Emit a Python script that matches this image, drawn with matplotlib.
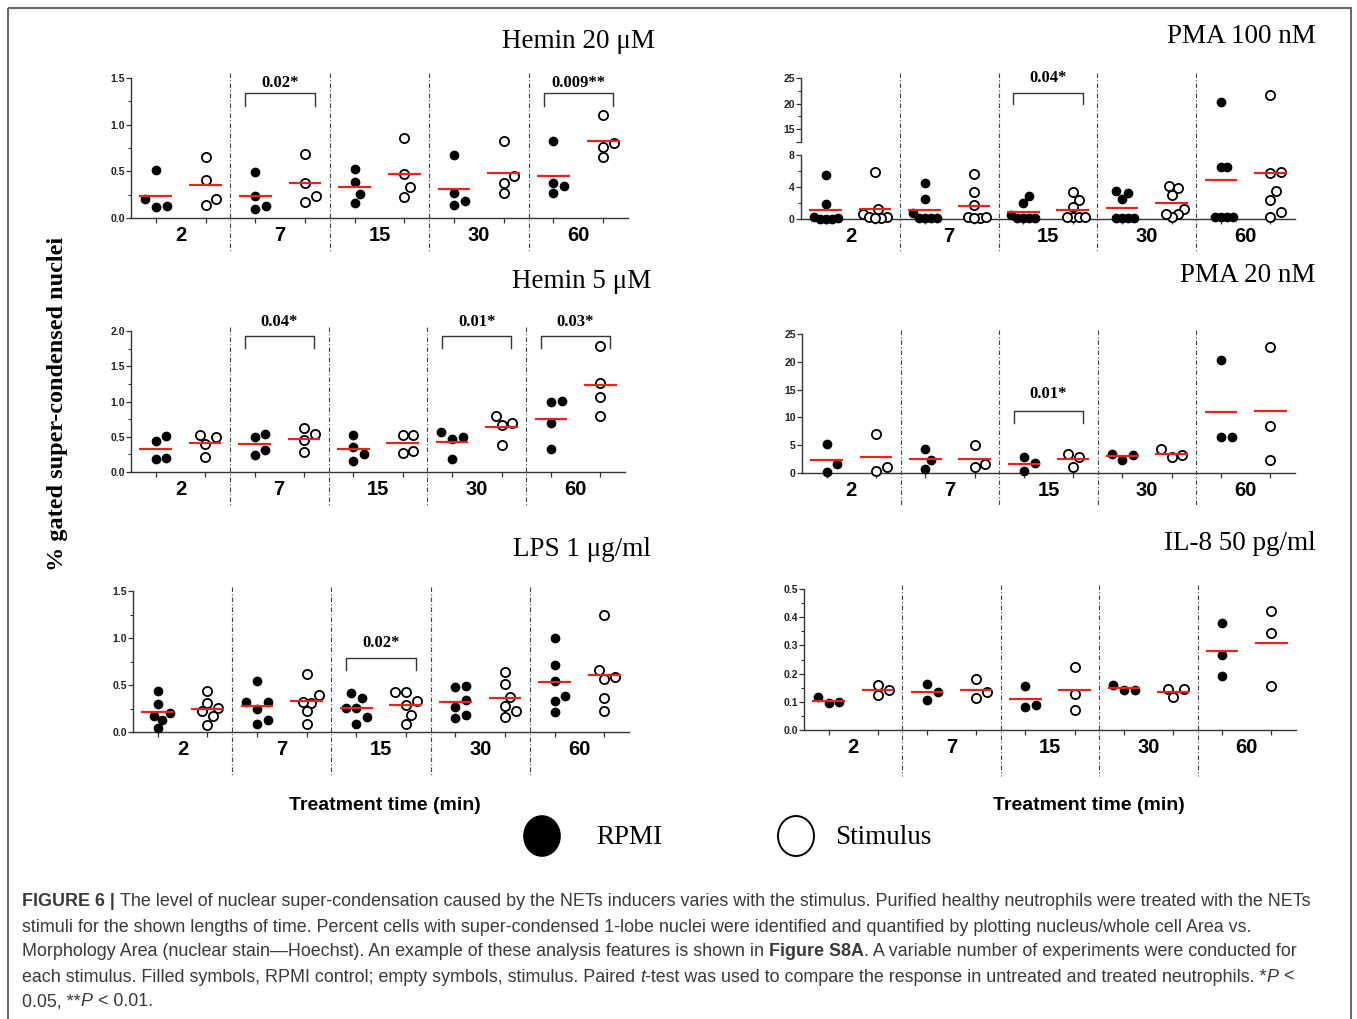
import numpy as np
import matplotlib.pyplot as plt
import matplotlib.transforms as mtransforms
from matplotlib.patches import Ellipse, Rectangle
from matplotlib.ticker import MultipleLocator

W, H = 1357, 1019
DPI = 100

times = ["2", "7", "15", "30", "60"]

# values, one list per treatment time
hemin20_rpmi = [[0.51, 0.20, 0.12, 0.13], [0.49, 0.24, 0.10, 0.13], [0.52, 0.39, 0.26, 0.16],
                [0.67, 0.27, 0.18, 0.14], [0.82, 0.38, 0.34, 0.27]]
hemin20_stim = [[0.65, 0.41, 0.20, 0.14], [0.69, 0.38, 0.24, 0.17], [0.86, 0.47, 0.33, 0.23],
                [0.82, 0.45, 0.38, 0.27], [1.10, 0.80, 0.76, 0.65]]
hemin20_sig = {1: "0.02*", 4: "0.009**"}

hemin5_rpmi = [[0.51, 0.44, 0.20, 0.18], [0.54, 0.49, 0.31, 0.24], [0.52, 0.36, 0.26, 0.15],
               [0.49, 0.47, 0.57, 0.18], [0.99, 1.01, 0.70, 0.33]]
hemin5_stim = [[0.49, 0.52, 0.40, 0.21], [0.62, 0.54, 0.45, 0.28], [0.53, 0.53, 0.27, 0.30],
               [0.70, 0.67, 0.79, 0.39], [1.79, 1.26, 1.07, 0.79]]
hemin5_sig = {1: "0.04*", 3: "0.01*", 4: "0.03*"}

lps_rpmi = [[0.44, 0.30, 0.20, 0.17, 0.13, 0.04], [0.54, 0.32, 0.32, 0.24, 0.13, 0.09],
            [0.41, 0.36, 0.26, 0.26, 0.16, 0.08], [0.48, 0.49, 0.34, 0.27, 0.18, 0.15],
            [1.00, 0.71, 0.54, 0.38, 0.33, 0.21]]
lps_stim = [[0.44, 0.31, 0.26, 0.22, 0.17, 0.07], [0.62, 0.39, 0.31, 0.32, 0.22, 0.09],
            [0.43, 0.43, 0.33, 0.29, 0.18, 0.08], [0.64, 0.51, 0.37, 0.28, 0.22, 0.16],
            [1.25, 0.66, 0.59, 0.56, 0.36, 0.22]]
lps_sig = {2: "0.02*"}

pma100_rpmi = [[5.5, 1.9, 0.3, 0.1, 0.05, 0.05, 0.05], [4.5, 2.5, 0.8, 0.1, 0.1, 0.1, 0.1],
               [2.9, 2.0, 0.5, 0.1, 0.1, 0.1, 0.1], [3.3, 2.5, 3.5, 0.1, 0.1, 0.1, 0.1],
               [20.4, 6.5, 6.5, 0.3, 0.2, 0.2, 0.3]]
pma100_stim = [[5.9, 1.3, 0.6, 0.3, 0.2, 0.1, 0.1], [5.6, 3.4, 1.7, 0.3, 0.1, 0.1, 0.3],
               [3.4, 2.4, 1.5, 0.2, 0.2, 0.2, 0.3], [3.9, 3.0, 4.1, 1.2, 0.6, 0.3, 0.6],
               [21.6, 5.7, 5.9, 3.5, 2.4, 0.9, 0.2]]
pma100_sig = {2: "0.04*"}

pma20_rpmi = [[5.3, 1.7, 0.2], [4.4, 2.3, 0.7], [2.8, 1.8, 0.36], [3.4, 2.4, 3.2], [20.3, 6.4, 6.4]]
pma20_stim = [[7.1, 1.0, 0.4], [5.0, 1.6, 1.1], [3.4, 2.8, 1.1], [4.3, 2.8, 3.2], [22.6, 8.5, 2.3]]
pma20_sig = {2: "0.01*"}

il8_rpmi = [[0.118, 0.096, 0.098], [0.162, 0.135, 0.108], [0.155, 0.090, 0.082],
            [0.160, 0.142, 0.142], [0.379, 0.265, 0.193]]
il8_stim = [[0.161, 0.125, 0.142], [0.181, 0.134, 0.112], [0.223, 0.128, 0.072],
            [0.147, 0.117, 0.144], [0.421, 0.344, 0.157]]
il8_sig = {}

fig = plt.figure(figsize=(W / DPI, H / DPI), dpi=DPI)
over = fig.add_axes([0, 0, 1, 1], zorder=5)
over.set_xlim(0, W)
over.set_ylim(H, 0)
over.axis("off")
over.patch.set_alpha(0)

AX_COL = "#333333"


def px_axes(x0, y0, x1, y1):
    a = fig.add_axes([x0 / W, 1 - y1 / H, (x1 - x0) / W, (y1 - y0) / H])
    a.patch.set_alpha(0)
    for s in ("top", "right"):
        a.spines[s].set_visible(False)
    for s in ("left", "bottom"):
        a.spines[s].set_color(AX_COL)
        a.spines[s].set_linewidth(1.0)
    a.tick_params(axis="y", which="major", length=3.5, width=0.9, color=AX_COL,
                  labelsize=7.5, pad=1)
    a.tick_params(axis="y", which="minor", length=2.5, width=0.8, color=AX_COL)
    return a


def style_yticks(a):
    for lab in a.get_yticklabels():
        lab.set_fontweight("bold")
        lab.set_fontfamily("Liberation Sans")
        lab.set_color("#222222")


def setup_x(a, show_labels=True):
    a.set_xlim(0.5, 10.5)
    a.set_xticks(np.arange(1, 11))
    a.set_xticklabels([])
    a.tick_params(axis="x", which="major", length=3.5, width=0.9, color=AX_COL)
    if show_labels:
        a.set_xticks(np.arange(1.5, 10, 2), times, minor=True)
        a.tick_params(axis="x", which="minor", length=0, labelsize=14.5, pad=6)
        for lab in a.get_xticklabels(minor=True):
            lab.set_fontweight("bold")
            lab.set_fontfamily("Liberation Sans")
    else:
        a.spines["bottom"].set_visible(False)
        a.tick_params(axis="x", which="both", length=0)


def swarm(ypix, diam=10.0, step=5.35, limit=12.0):
    order = np.argsort(ypix)
    offs = np.zeros(len(ypix))
    placed = []
    cands = [0]
    for k in range(1, 30):
        cands += [k, -k]
    for i in order:
        for k in cands:
            dx = k * step
            if all(np.hypot(dx - px, ypix[i] - py) >= diam for px, py in placed):
                break
        offs[i] = dx
        placed.append((dx, ypix[i]))
    m = np.abs(offs).max()
    if m > limit:
        offs *= limit / m
    return offs


def plot_group(axes_for, xpos, vals, filled, px_per_x):
    vals = np.asarray(vals, float)
    ypix = np.array([axes_for(v).transData.transform((0, v))[1] for v in vals])
    offs = swarm(ypix) / px_per_x
    for v, o in zip(vals, offs):
        a = axes_for(v)
        if filled:
            a.plot(xpos + o, v, "o", ms=6.0, color="black", mec="black", clip_on=False, zorder=4)
        else:
            a.plot(xpos + o, v, "o", ms=6.6, mfc="white", mec="black", mew=1.3,
                   clip_on=False, zorder=4)


def draw_panel(ax_low, ax_up, rpmi, stim, sig, brk, title, title_xy, sep_y):
    px_per_x = (ax_low.transData.transform((2, 0))[0] - ax_low.transData.transform((1, 0))[0])

    def axes_for(v):
        if ax_up is not None and v > ax_low.get_ylim()[1]:
            return ax_up
        return ax_low

    for i in range(len(times)):
        xr, xs = 2 * i + 1, 2 * i + 2
        plot_group(axes_for, xr, rpmi[i], True, px_per_x)
        plot_group(axes_for, xs, stim[i], False, px_per_x)
        for xp, vals in ((xr, rpmi[i]), (xs, stim[i])):
            m = np.mean(vals)
            axes_for(m).plot([xp - 0.33, xp + 0.33], [m, m], color="#e8231e", lw=1.6,
                             solid_capstyle="butt", zorder=5, clip_on=False)
    # dash-dot separators between times
    trans = mtransforms.blended_transform_factory(ax_low.transData, over.transData)
    for xsep in (2.5, 4.5, 6.5, 8.5):
        over.plot([xsep, xsep], sep_y, transform=trans, color="#444444", lw=0.8,
                  ls=(0, (4, 2, 1, 2)), zorder=1)
    # significance brackets
    bax = ax_up if ax_up is not None else ax_low
    top, leg, lab_y = brk
    for i, txt in sig.items():
        x0, x1 = 2 * i + 1 - 0.2, 2 * i + 2 + 0.2
        bax.plot([x0, x0, x1, x1], [leg, top, top, leg], color="#333333", lw=1.0,
                 clip_on=False, zorder=3)
        bax.text((x0 + x1) / 2, lab_y, txt, ha="center", va="center", fontsize=12,
                 fontweight="bold", family="Liberation Serif", clip_on=False)
    over.text(title_xy[0], title_xy[1], title, ha="right", va="center", fontsize=19.5,
              family="Liberation Serif")


# ---- left column ----
a1 = px_axes(131, 78, 628, 218)
a1.set_ylim(0, 1.5)
a1.set_yticks([0, 0.5, 1.0, 1.5], ["0.0", "0.5", "1.0", "1.5"])
a1.yaxis.set_minor_locator(MultipleLocator(0.25))
setup_x(a1)
style_yticks(a1)

a3 = px_axes(131, 331, 625, 472)
a3.set_ylim(0, 2.0)
a3.set_yticks([0, 0.5, 1.0, 1.5, 2.0], ["0.0", "0.5", "1.0", "1.5", "2.0"])
a3.yaxis.set_minor_locator(MultipleLocator(0.25))
setup_x(a3)
style_yticks(a3)

a5 = px_axes(133, 591, 629, 732)
a5.set_ylim(0, 1.5)
a5.set_yticks([0, 0.5, 1.0, 1.5], ["0.0", "0.5", "1.0", "1.5"])
a5.yaxis.set_minor_locator(MultipleLocator(0.25))
setup_x(a5)
style_yticks(a5)

# ---- right column ----
a2 = px_axes(801, 155, 1295, 219)
a2.set_ylim(0, 8)
a2.set_yticks([0, 4, 8], ["0", "4", "8"])
a2.yaxis.set_minor_locator(MultipleLocator(2))
setup_x(a2)
style_yticks(a2)
a2u = px_axes(801, 78, 1295, 142)
a2u.set_ylim(12.5, 25)
a2u.set_yticks([12.5, 15, 20, 25], ["", "15", "20", "25"])
a2u.set_yticks([17.5, 22.5], minor=True)
setup_x(a2u, show_labels=False)
style_yticks(a2u)

a4 = px_axes(802, 334, 1295, 473)
a4.set_ylim(0, 25)
a4.set_yticks([0, 5, 10, 15, 20, 25], ["0", "5", "10", "15", "20", "25"])
setup_x(a4)
style_yticks(a4)

a6 = px_axes(804, 589, 1296, 730)
a6.set_ylim(0, 0.5)
a6.set_yticks([0, 0.1, 0.2, 0.3, 0.4, 0.5], ["0.0", "0.1", "0.2", "0.3", "0.4", "0.5"])
a6.yaxis.set_minor_locator(MultipleLocator(0.05))
setup_x(a6)
style_yticks(a6)

draw_panel(a1, None, hemin20_rpmi, hemin20_stim, hemin20_sig, (1.34, 1.20, 1.45),
           "Hemin 20 μM", (655, 41), (73, 252))
draw_panel(a3, None, hemin5_rpmi, hemin5_stim, hemin5_sig, (1.93, 1.76, 2.13),
           "Hemin 5 μM", (651, 281), (327, 506))
draw_panel(a5, None, lps_rpmi, lps_stim, lps_sig, (0.79, 0.66, 0.95),
           "LPS 1 μg/ml", (651, 549), (587, 776))
draw_panel(a2, a2u, pma100_rpmi, pma100_stim, pma100_sig, (22.1, 19.9, 25.0),
           "PMA 100 nM", (1316, 36), (73, 252))
draw_panel(a4, None, pma20_rpmi, pma20_stim, pma20_sig, (11.2, 9.0, 14.2),
           "PMA 20 nM", (1316, 276), (330, 506))
draw_panel(a6, None, il8_rpmi, il8_stim, il8_sig, (0, 0, 0),
           "IL-8 50 pg/ml", (1316, 544), (585, 776))

# ---- shared labels and legend ----
over.text(58, 404, "% gated super-condensed nuclei", rotation=90, ha="center", va="center",
          fontsize=17.5, fontweight="bold", family="Liberation Serif")
for xc in (385, 1089):
    over.text(xc, 806, "Treatment time (min)", ha="center", va="center", fontsize=14,
              fontweight="bold", family="Liberation Sans")
over.add_patch(Ellipse((542, 836), 36, 40, facecolor="black", edgecolor="black", lw=1.2))
over.text(596, 838, "RPMI", ha="left", va="center", fontsize=19.5, family="Liberation Serif")
over.add_patch(Ellipse((796, 836), 36, 40, facecolor="white", edgecolor="black", lw=1.4))
over.text(835, 838, "Stimulus", ha="left", va="center", fontsize=19.5, family="Liberation Serif")

# frame around the figure (open at the bottom, cropped)
over.add_patch(Rectangle((8, 8), 1343, 1040, fill=False, edgecolor="#6a6a6a", lw=1.5,
                         clip_on=False))

# ---- caption ----
cap_lines = [
    [("FIGURE 6 |", "bold", "normal"),
     (" The level of nuclear super-condensation caused by the NETs inducers varies with the "
      "stimulus. Purified healthy neutrophils were treated with the NETs", "normal", "normal")],
    [("stimuli for the shown lengths of time. Percent cells with super-condensed 1-lobe nuclei "
      "were identified and quantified by plotting nucleus/whole cell Area vs.", "normal", "normal")],
    [("Morphology Area (nuclear stain\u2014Hoechst). An example of these analysis features is "
      "shown in ", "normal", "normal"), ("Figure S8A", "bold", "normal"),
     (". A variable number of experiments were conducted for", "normal", "normal")],
    [("each stimulus. Filled symbols, RPMI control; empty symbols, stimulus. Paired ",
      "normal", "normal"), ("t", "normal", "italic"),
     ("-test was used to compare the response in untreated and treated neutrophils. *",
      "normal", "normal"), ("P", "normal", "italic"), (" <", "normal", "normal")],
    [("0.05, **", "normal", "normal"), ("P", "normal", "italic"), (" < 0.01.", "normal", "normal")],
]
CAP_COL = "#3a3a3a"
renderer = fig.canvas.get_renderer()


def text_w(s, size, weight, style):
    t = over.text(0, 0, s, fontsize=size, fontweight=weight, fontstyle=style,
                  family="Liberation Sans")
    w = t.get_window_extent(renderer).width
    t.remove()
    return w


def run_width(runs, size):
    sp = text_w("a a", size, "normal", "normal") - text_w("aa", size, "normal", "normal")
    total = 0
    for s, wt, st in runs:
        core = s.strip(" ")
        nlead = len(s) - len(s.lstrip(" "))
        ntrail = len(s) - len(s.rstrip(" "))
        total += nlead * sp + text_w(core, size, wt, st) + ntrail * sp
    return total, sp


base = 12.0
w0, _ = run_width(cap_lines[0], base)
cap_size = base * 1291 / w0

for li, runs in enumerate(cap_lines):
    y = 902 + 25 * li
    x = 22
    _, sp = run_width(runs, cap_size)
    for s, wt, st in runs:
        core = s.strip(" ")
        nlead = len(s) - len(s.lstrip(" "))
        ntrail = len(s) - len(s.rstrip(" "))
        x += nlead * sp
        over.text(x, y, core, ha="left", va="center", fontsize=cap_size, fontweight=wt,
                  fontstyle=st, family="Liberation Sans", color=CAP_COL)
        x += text_w(core, cap_size, wt, st) + ntrail * sp

fig.savefig("out.png", dpi=DPI)
